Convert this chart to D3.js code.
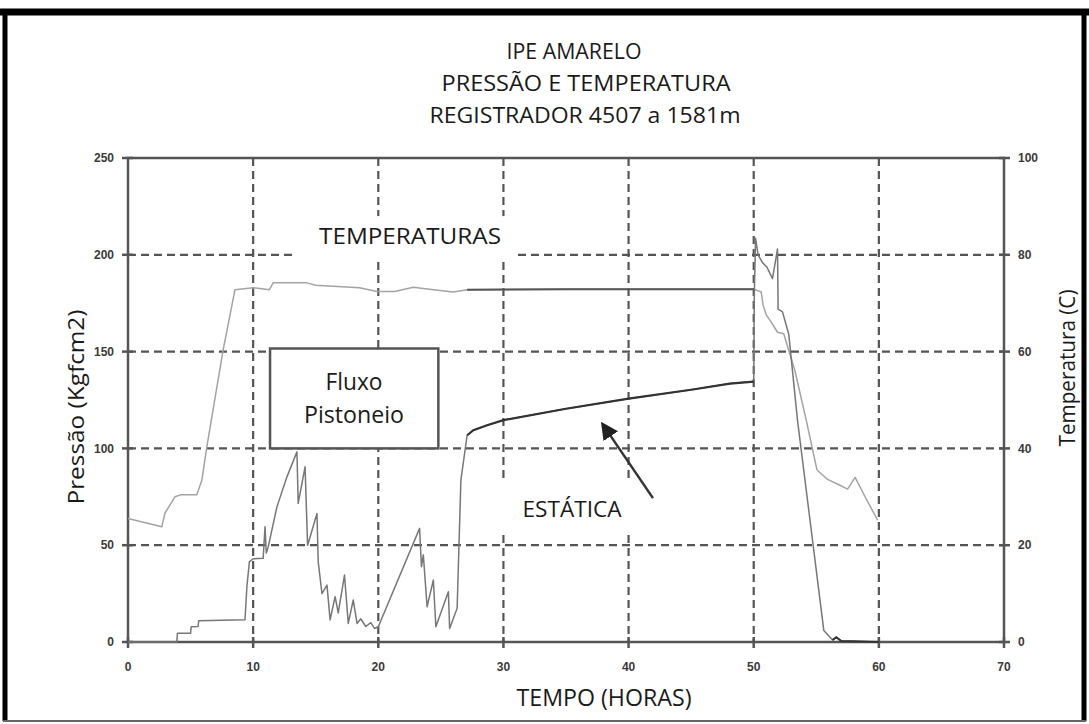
<!DOCTYPE html>
<html>
<head>
<meta charset="utf-8">
<script src="https://cdn.jsdelivr.net/npm/d3@7"></script>
<style>
  body { margin: 0; background: #fff; }
  svg { display: block; }
</style>
</head>
<body>
<div id="chart"></div>
<script>
// chart size and plot area
const width = 1089, height = 724;
const plot = { left: 128, right: 1004, top: 158, bottom: 642 };

// texts
const titleLines = ["IPE AMARELO", "PRESSÃO E TEMPERATURA", "REGISTRADOR 4507 a 1581m"];
const xLabel = "TEMPO (HORAS)";
const yLabelLeft = "Pressão (Kgfcm2)";
const yLabelRight = "Temperatura (C)";

// ticks
const timeTicks = [0, 10, 20, 30, 40, 50, 60, 70];
const pressureTicks = [0, 50, 100, 150, 200, 250];
const tempTicks = [0, 20, 40, 60, 80, 100];

// pressure record [hours, Kgf/cm2]
const pressureSeries = [
  [0, 0], [3.9, 0], [3.95, 4.5], [5.0, 4.5], [5.05, 7.9], [5.6, 8], [5.65, 11],
  [9.35, 11.5], [9.5, 28.5], [9.7, 41.4], [10, 43], [10.8, 43.2], [10.95, 59.5],
  [11.05, 46], [11.2, 49], [11.9, 69.8], [12.7, 85.3], [13.5, 98.2], [13.6, 71.6],
  [14.15, 90.5], [14.35, 50], [14.45, 52], [15.1, 66.4], [15.2, 41.4], [15.5, 25],
  [15.9, 29.4], [16.15, 11.4], [16.55, 23.4], [16.8, 15], [17.3, 34.6], [17.6, 9.6],
  [18.0, 21.7], [18.3, 9.6], [18.6, 12], [19.0, 8], [19.4, 10], [19.7, 7], [20.0, 7.9],
  [23.3, 58.7], [23.45, 38.9], [23.6, 45], [23.9, 18.2], [24.4, 32], [24.6, 7.9],
  [25.6, 26], [25.7, 7], [26.3, 17.4], [26.6, 83.6], [27.1, 106.8], [27.6, 109.4],
  [28.7, 112], [30, 114.6], [35, 120.5], [40, 125.7], [45, 130.3], [48.1, 133.5],
  [50, 134.5], [50.05, 180], [50.15, 208.5], [50.35, 200], [50.7, 196], [51.05, 193.7],
  [51.5, 187.7], [51.9, 203], [51.95, 172], [52.3, 170.5], [52.6, 163.6], [52.8, 159],
  [53.5, 114.5], [55.6, 6], [56.3, 1], [56.6, 2.5], [57.0, 0.5], [60, 0]
];

// temperature record [hours, C]
const tempSeries = [
  [0, 25.5], [2.7, 23.8], [2.95, 26.6], [3.75, 30], [4.2, 30.4], [5.5, 30.4],
  [5.9, 33.4], [6.3, 40.3], [7.6, 60.3], [8.55, 72.8], [10, 73.2], [11.3, 72.8],
  [11.6, 74.2], [14.3, 74.2], [15, 73.7], [18.5, 73.2], [19.9, 72.4], [21.3, 72.4],
  [22.8, 73.3], [24.4, 72.8], [26, 72.3], [27.1, 72.8], [35, 72.9], [45, 72.9],
  [50, 72.9], [50.6, 72.3], [50.75, 69.6], [51.0, 67.6], [51.4, 66.1], [51.9, 64],
  [52.4, 63.7], [53.3, 56], [54.2, 45.8], [55.05, 35.6], [55.5, 34.5], [55.9, 33.6],
  [56.8, 32.5], [57.5, 31.6], [58.1, 34], [59.0, 29.5], [59.9, 25.2]
];

let svg = d3.select("#chart")
    .append("svg")
    .attr("width", width)
    .attr("height", height);

svg.append("rect").attr("width", width).attr("height", height).attr("fill", "#fff");

let x = d3.scaleLinear().domain([0, 70]).range([plot.left, plot.right]);
let y = d3.scaleLinear().domain([0, 250]).range([plot.bottom, plot.top]);
let yT = d3.scaleLinear().domain([0, 100]).range([plot.bottom, plot.top]);

const gridColor = "#555";

// dashed grid
svg.append("g").selectAll("line")
    .data(timeTicks.slice(1, -1))
    .enter().append("line")
    .attr("x1", d => x(d)).attr("x2", d => x(d))
    .attr("y1", plot.top).attr("y2", plot.bottom)
    .attr("stroke", gridColor).attr("stroke-width", 2.2)
    .attr("stroke-dasharray", "8,5");

svg.append("g").selectAll("line")
    .data(pressureTicks.slice(1, -1))
    .enter().append("line")
    .attr("x1", plot.left).attr("x2", plot.right)
    .attr("y1", d => y(d)).attr("y2", d => y(d))
    .attr("stroke", gridColor).attr("stroke-width", 2.2)
    .attr("stroke-dasharray", "8,5");

// white patches behind the labels (they hide the grid in the original)
svg.append("rect")
    .attr("x", x(13.5)).attr("y", y(220))
    .attr("width", x(31.1) - x(13.5)).attr("height", y(196.3) - y(220))
    .attr("fill", "#fff");
svg.append("rect")
    .attr("x", x(28.9)).attr("y", y(83.5))
    .attr("width", x(41.7) - x(28.9)).attr("height", y(56) - y(83.5))
    .attr("fill", "#fff");

// frame
const frameColor = "#555";
svg.append("rect")
    .attr("x", plot.left).attr("y", plot.top)
    .attr("width", plot.right - plot.left).attr("height", plot.bottom - plot.top)
    .attr("fill", "none").attr("stroke", frameColor).attr("stroke-width", 2.5);

// tick crosses
svg.append("g").selectAll("line")
    .data(pressureTicks)
    .enter().append("line")
    .attr("x1", plot.left - 6).attr("x2", plot.left + 5)
    .attr("y1", d => y(d)).attr("y2", d => y(d))
    .attr("stroke", frameColor).attr("stroke-width", 2.5);
svg.append("g").selectAll("line")
    .data(tempTicks)
    .enter().append("line")
    .attr("x1", plot.right - 5).attr("x2", plot.right + 6)
    .attr("y1", d => yT(d)).attr("y2", d => yT(d))
    .attr("stroke", frameColor).attr("stroke-width", 2.5);
svg.append("g").selectAll("line")
    .data(timeTicks)
    .enter().append("line")
    .attr("x1", d => x(d)).attr("x2", d => x(d))
    .attr("y1", plot.bottom - 5).attr("y2", plot.bottom + 6)
    .attr("stroke", frameColor).attr("stroke-width", 2.5);

// tick labels
const tickFont = "bold 12px 'Liberation Sans', Arial, sans-serif";
svg.append("g").selectAll("text")
    .data(pressureTicks)
    .enter().append("text")
    .attr("x", plot.left - 14).attr("y", d => y(d))
    .attr("dy", "0.35em")
    .style("text-anchor", "end")
    .style("font", tickFont).attr("fill", "#3a3a3a")
    .text(d => d);
svg.append("g").selectAll("text")
    .data(tempTicks)
    .enter().append("text")
    .attr("x", plot.right + 14).attr("y", d => yT(d))
    .attr("dy", "0.35em")
    .style("text-anchor", "start")
    .style("font", tickFont).attr("fill", "#3a3a3a")
    .text(d => d);
svg.append("g").selectAll("text")
    .data(timeTicks)
    .enter().append("text")
    .attr("x", d => x(d)).attr("y", plot.bottom + 25)
    .attr("dy", "0.35em")
    .style("text-anchor", "middle")
    .style("font", tickFont).attr("fill", "#3a3a3a")
    .text(d => d);

// "Fluxo Pistoneio" box
svg.append("rect")
    .attr("x", x(11.35)).attr("y", y(151.6))
    .attr("width", x(24.8) - x(11.35)).attr("height", y(100) - y(151.6))
    .attr("fill", "#fff").attr("stroke", "#555").attr("stroke-width", 2.5);

// curves
let line = d3.line().x(d => x(d[0])).y(d => y(d[1]));
let lineT = d3.line().x(d => x(d[0])).y(d => yT(d[1]));

svg.append("path")
    .datum(tempSeries)
    .attr("fill", "none").attr("stroke", "#a3a3a3").attr("stroke-width", 1.5)
    .attr("stroke-linejoin", "round")
    .attr("d", lineT);
svg.append("path")
    .datum(tempSeries.filter(d => d[0] >= 27.1 && d[0] <= 50))
    .attr("fill", "none").attr("stroke", "#555").attr("stroke-width", 2)
    .attr("d", lineT);

svg.append("path")
    .datum(pressureSeries)
    .attr("fill", "none").attr("stroke", "#777").attr("stroke-width", 1.5)
    .attr("stroke-linejoin", "round")
    .attr("d", line);
svg.append("path")
    .datum(pressureSeries.filter(d => d[0] >= 27.1 && d[0] <= 50))
    .attr("fill", "none").attr("stroke", "#333").attr("stroke-width", 2.2)
    .attr("d", line);
svg.append("path")
    .datum(pressureSeries.filter(d => d[0] >= 56.3))
    .attr("fill", "none").attr("stroke", "#333").attr("stroke-width", 2)
    .attr("d", line);

// arrow to the static curve
svg.append("defs").append("marker")
    .attr("id", "head")
    .attr("viewBox", "0 0 10 10")
    .attr("refX", 8).attr("refY", 5)
    .attr("markerWidth", 7).attr("markerHeight", 7)
    .attr("orient", "auto")
    .append("path").attr("d", "M0,0 L10,5 L0,10 Z").attr("fill", "#222");
svg.append("line")
    .attr("x1", x(41.95)).attr("y1", y(74.3))
    .attr("x2", x(37.95)).attr("y2", y(112.3))
    .attr("stroke", "#333").attr("stroke-width", 2.5)
    .attr("marker-end", "url(#head)");

// text helper
const textFont = "'Open Sans', sans-serif";
function label(tx, ty, str, size, len, rotate) {
    let t = svg.append("text")
        .attr("x", tx).attr("y", ty)
        .style("text-anchor", "middle")
        .style("font-family", textFont)
        .style("font-size", size + "px")
        .attr("fill", "#1a1a1a")
        .attr("textLength", len)
        .attr("lengthAdjust", "spacingAndGlyphs")
        .text(str);
    if (rotate) t.attr("transform", `rotate(-90, ${tx}, ${ty})`);
    return t;
}

// title
label(574, 59, titleLines[0], 21, 135);
label(586, 91, titleLines[1], 21, 289);
label(585, 123, titleLines[2], 21, 311);

// annotations
label(410, 244, "TEMPERATURAS", 21, 182);
label(354, 390, "Fluxo", 23, 57);
label(354, 423, "Pistoneio", 23, 100);
label(572, 517, "ESTÁTICA", 22, 99);

// axis titles
label(604, 706, xLabel, 23, 175);
label(84, 407, yLabelLeft, 21, 195, true);
label(1075, 368, yLabelRight, 21, 157, true);

// outer black frame
svg.append("line").attr("x1", 0).attr("x2", width).attr("y1", 12).attr("y2", 12)
    .attr("stroke", "#000").attr("stroke-width", 7);
svg.append("line").attr("x1", 5).attr("x2", 5).attr("y1", 9).attr("y2", 721)
    .attr("stroke", "#000").attr("stroke-width", 5);
svg.append("line").attr("x1", 1084).attr("x2", 1084).attr("y1", 9).attr("y2", 721)
    .attr("stroke", "#000").attr("stroke-width", 5);
svg.append("line").attr("x1", 3).attr("x2", 1086).attr("y1", 721).attr("y2", 721)
    .attr("stroke", "#666").attr("stroke-width", 2);
</script>
</body>
</html>
